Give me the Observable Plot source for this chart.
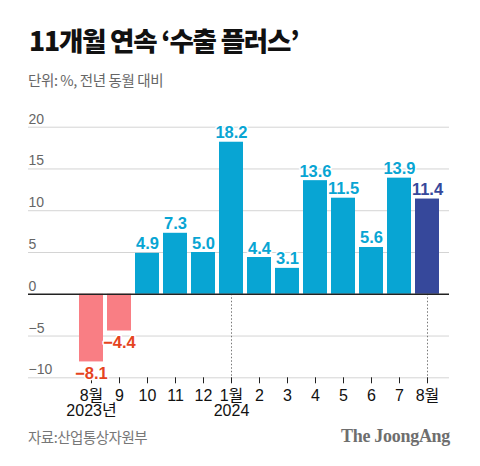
<!DOCTYPE html>
<html><head><meta charset="utf-8">
<script src="https://cdn.jsdelivr.net/npm/d3@7"></script>
<script src="https://cdn.jsdelivr.net/npm/@observablehq/plot@0.6"></script>
<style>
body{margin:0;background:#fff;width:480px;height:466px;overflow:hidden;font-family:"Liberation Sans","Noto Sans CJK KR",sans-serif;}
#wrap{position:relative;width:480px;height:466px;}
#title{position:absolute;left:29px;top:24px;font-family:"Noto Sans CJK KR",sans-serif;font-weight:900;font-size:26.5px;letter-spacing:-1.2px;line-height:1.2;color:#111;white-space:nowrap;}
#sub{position:absolute;left:28px;top:71px;font-family:"Noto Sans CJK KR",sans-serif;font-size:14.5px;line-height:1.2;color:#666;letter-spacing:-0.4px;white-space:nowrap;}
#chart{position:absolute;left:0;top:100px;}
#src{position:absolute;left:28px;top:428px;font-family:"Noto Sans CJK KR",sans-serif;font-size:14.5px;line-height:1.2;color:#777;letter-spacing:-0.5px;white-space:nowrap;}
#brand{position:absolute;right:30px;top:426px;font-family:"Liberation Serif","DejaVu Serif",serif;font-weight:bold;font-size:18px;line-height:1.2;color:#6e6e6e;letter-spacing:-0.3px;white-space:nowrap;}
</style></head>
<body><div id="wrap">
<div id="title">11개월 연속 ‘수출 플러스’</div>
<div id="sub">단위: %, 전년 동월 대비</div>
<div id="chart"></div>
<div id="src">자료:산업통상자원부</div>
<div id="brand">The JoongAng</div>
</div>
<script>
const months = ["8월","9","10","11","12","1월","2","3","4","5","6","7","8월"];
const years  = ["2023년","","","","","2024","","","","","","",""];
const values = [-8.1,-4.4,4.9,7.3,5.0,18.2,4.4,3.1,13.6,11.5,5.6,13.9,11.4];
const yTicks = [-10,-5,0,5,10,15,20];
const kinds = ["neg","pos","latest"];
const barColors = ["#f97e84","#08a5d3","#36489b"];
const labelColors = {neg:"#e5441f", pos:"#08a5d3", latest:"#36489b"};

const data = values.map((v,i)=>({
  i, month: months[i], year: years[i], value: v,
  kind: v < 0 ? "neg" : (i === values.length-1 ? "latest" : "pos")
}));
const fmt = v => (v < 0 ? "\u2212" + Math.abs(v).toFixed(1) : v.toFixed(1));
const tickFmt = v => (v < 0 ? "\u2212" + Math.abs(v) : String(v));
const markers = data.filter(d => d.i > 0 && d.month.endsWith("월"));

const plot = Plot.plot({
  width: 480, height: 330,
  marginTop: 26.7, marginBottom: 52.7, marginLeft: 28, marginRight: 31,
  style: {fontFamily: '"Liberation Sans","Noto Sans CJK KR",sans-serif', background: "transparent"},
  x: {domain: data.map(d=>d.i), range: [75.3, 442.9], paddingInner: 0.15, paddingOuter: 0.075, label: null, axis: null},
  y: {domain: [-10, 20], label: null, axis: null},
  color: {domain: kinds, range: barColors},
  marks: [
    Plot.ruleY(yTicks.filter(t=>t!==0), {y: d=>d, stroke:"#d4d4d4", strokeWidth:1}),
    Plot.text(yTicks, {y: d=>d, text: tickFmt, frameAnchor:"left", textAnchor:"start", lineAnchor:"bottom", dy:-3.5, fontSize:14, fill:"#666"}),
    Plot.ruleX(markers, {x:"i", y1:0, y2:-10, stroke:"#777", strokeDasharray:"1.5,2", strokeWidth:1}),
    Plot.barY(data, {x:"i", y:"value", fill:"kind"}),
    Plot.ruleY([0], {stroke:"#222", strokeWidth:1.3}),
    Plot.axisX({tickSize:6, tickPadding:6, stroke:"#222", tickFormat: i => months[i] + (years[i] ? "\n" + years[i] : ""), fontSize:16, lineHeight:0.95, fill:"#111", label:null}),
    Plot.text(data.filter(d=>d.kind==="pos"), {x:"i", y:"value", text: d=>fmt(d.value), lineAnchor:"bottom", dy:-4, fontSize:16.5, fontWeight:"bold", fill:labelColors.pos, stroke:"#fff", strokeWidth:3, paintOrder:"stroke", letterSpacing:"-0.3px"}),
    Plot.text(data.filter(d=>d.kind==="latest"), {x:"i", y:"value", text: d=>fmt(d.value), lineAnchor:"bottom", dy:-4, fontSize:16.5, fontWeight:"bold", fill:labelColors.latest, stroke:"#fff", strokeWidth:3, paintOrder:"stroke", letterSpacing:"-0.3px"}),
    Plot.text(data.filter(d=>d.kind==="neg"), {x:"i", y:"value", text: d=>fmt(d.value), lineAnchor:"top", dy:5, fontSize:16.5, fontWeight:"bold", fill:labelColors.neg, stroke:"#fff", strokeWidth:3, paintOrder:"stroke", letterSpacing:"-0.3px"})
  ]
});
document.getElementById("chart").appendChild(plot);
</script>
</body></html>
